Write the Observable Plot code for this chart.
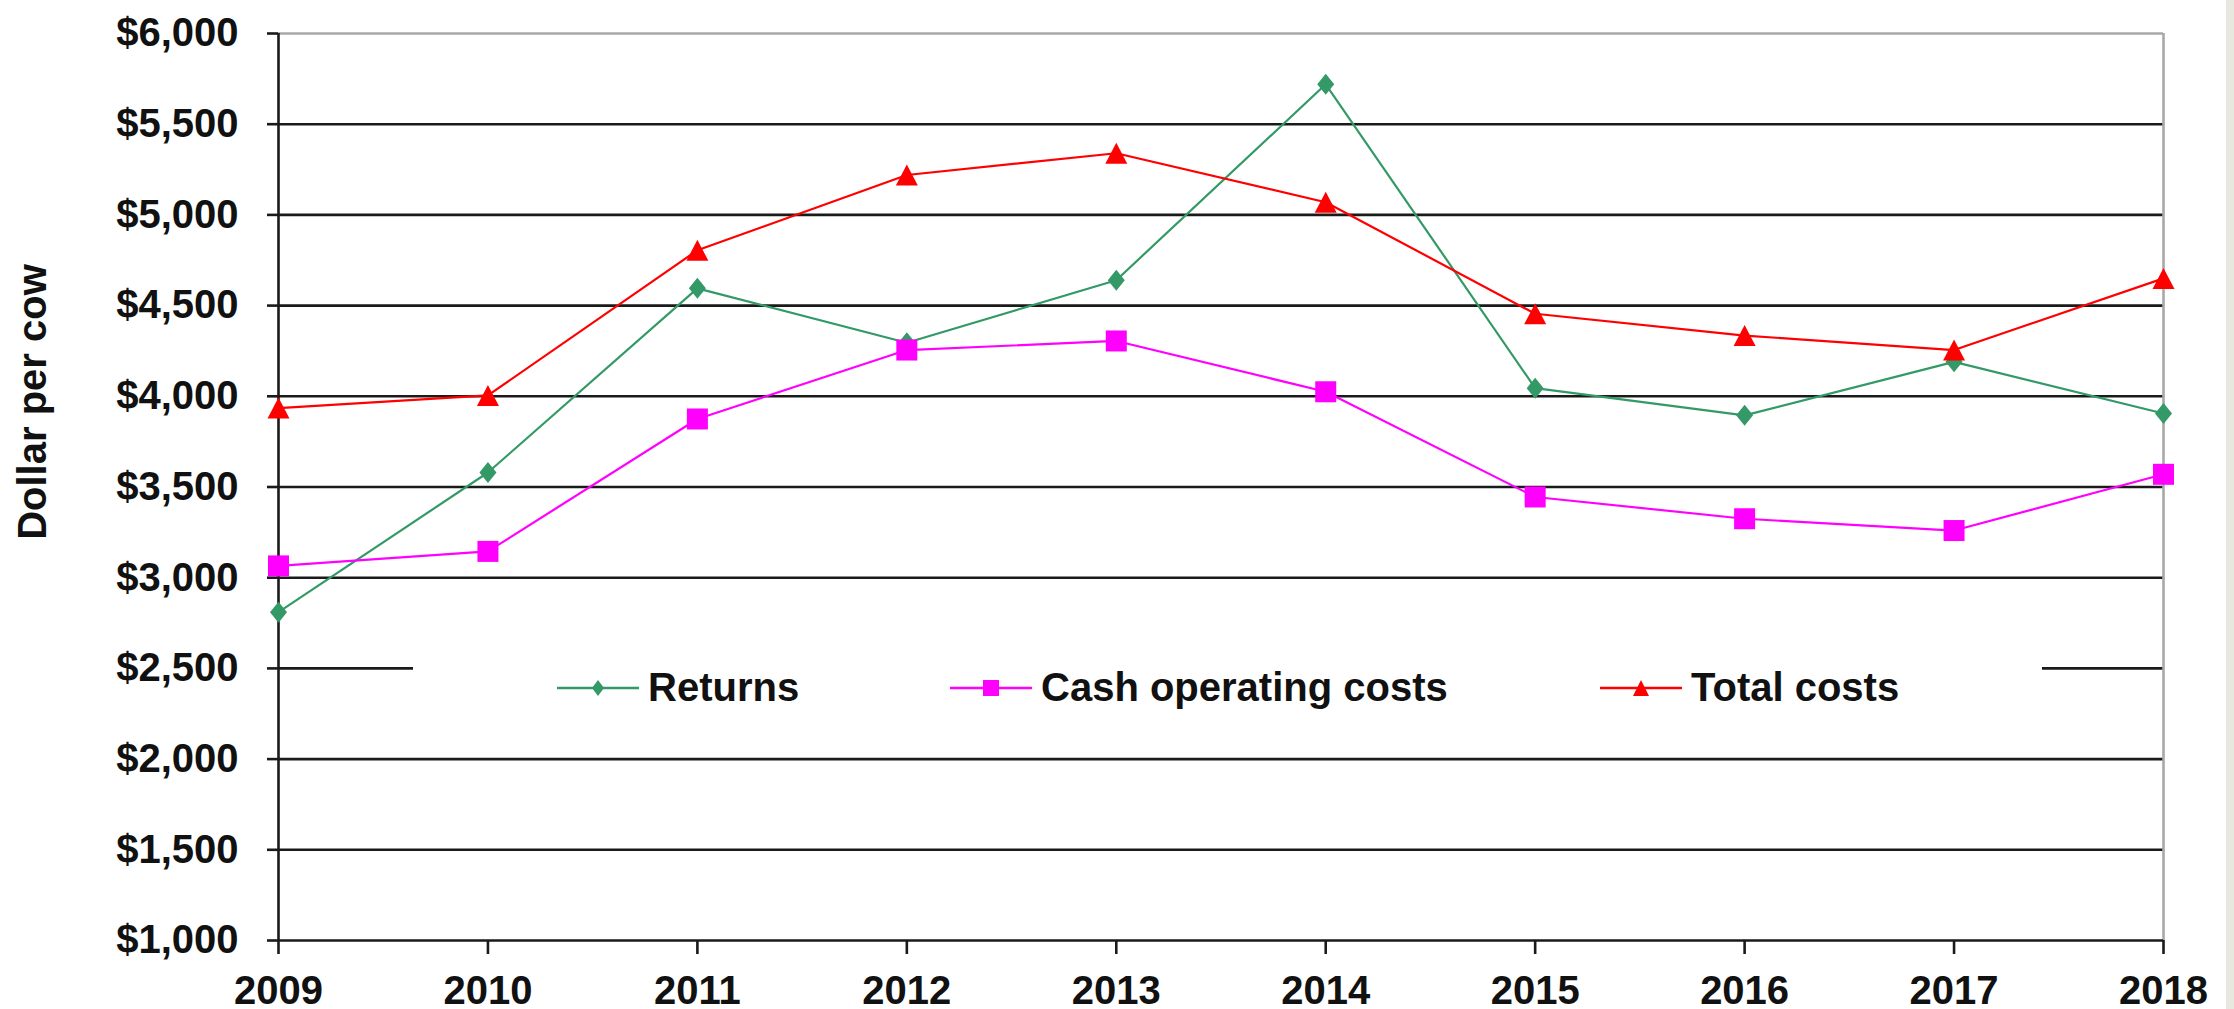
<!DOCTYPE html>
<html>
<head>
<meta charset="utf-8">
<script src="https://cdn.jsdelivr.net/npm/d3@7"></script>
<script src="https://cdn.jsdelivr.net/npm/@observablehq/plot@0.6"></script>
<style>
  html, body { margin: 0; padding: 0; }
  body {
    width: 2234px; height: 1009px; overflow: hidden;
    background: linear-gradient(to right, #ffffff 2226px, #e8e8e0 2226px);
    font-family: "Liberation Sans", Arial, sans-serif;
  }
</style>
</head>
<body>
<script>
// ---- data ----
const years = [2009, 2010, 2011, 2012, 2013, 2014, 2015, 2016, 2017, 2018];
const returns = [2810, 3580, 4595, 4295, 4640, 5720, 4045, 3895, 4190, 3905];
const cashCosts = [3065, 3145, 3875, 4255, 4305, 4025, 3445, 3325, 3260, 3570];
const totalCosts = [3935, 4005, 4805, 5220, 5340, 5070, 4455, 4335, 4255, 4650];
const seriesNames = ["Returns", "Cash operating costs", "Total costs"];
const seriesColors = ["#339966", "#ff00ff", "#ff0000"];
const yTicks = [1000, 1500, 2000, 2500, 3000, 3500, 4000, 4500, 5000, 5500, 6000];
const yLabel = "Dollar per cow";

// ---- marker shapes ----
function diamondSym(w, h) {
  return { draw(ctx) { ctx.moveTo(0, -h); ctx.lineTo(w, 0); ctx.lineTo(0, h); ctx.lineTo(-w, 0); ctx.closePath(); } };
}
function squareSym(s) {
  return { draw(ctx) { ctx.moveTo(-s, -s); ctx.lineTo(s, -s); ctx.lineTo(s, s); ctx.lineTo(-s, s); ctx.closePath(); } };
}
function triangleSym(w, h) {
  return { draw(ctx) { ctx.moveTo(0, -h); ctx.lineTo(w, h); ctx.lineTo(-w, h); ctx.closePath(); } };
}
const symbols = [diamondSym(8.5, 10.5), squareSym(10.5), triangleSym(11, 10.5)];
const legendSymbols = [diamondSym(6, 8), squareSym(8), triangleSym(8, 8)];

const valuesBySeries = [returns, cashCosts, totalCosts];
const rows = [];
seriesNames.forEach((name, s) => {
  years.forEach((yr, i) => rows.push({ year: yr, value: valuesBySeries[s][i], series: name }));
});

const font = "'Liberation Sans', Arial, sans-serif";
const ink = "#1a1a1a";

const marks = [
  Plot.ruleY(yTicks.filter(v => v > 1000 && v < 6000), { stroke: ink, strokeWidth: 2.6 }),
  Plot.ruleY([6000], { stroke: "#a8a8a8", strokeWidth: 2.6 }),
  Plot.ruleX([years[years.length - 1]], { stroke: "#a8a8a8", strokeWidth: 2.6 }),
  Plot.axisY({
    ticks: yTicks, tickFormat: d => "$" + d3.format(",")(d),
    tickSize: 11, tickPadding: 29, label: null,
    stroke: ink, strokeWidth: 2.6, fontSize: 40, fontWeight: "bold"
  }),
  Plot.axisX({
    ticks: years, tickFormat: d => String(d),
    tickSize: 14, tickPadding: 21, label: null,
    stroke: ink, strokeWidth: 2.6, fontSize: 40, fontWeight: "bold"
  }),
  Plot.ruleX([years[0]], { stroke: ink, strokeWidth: 2.6 }),
  Plot.ruleY([yTicks[0]], { stroke: ink, strokeWidth: 2.6 })
];
seriesNames.forEach((name, s) => {
  const d = rows.filter(r => r.series === name);
  marks.push(Plot.line(d, { x: "year", y: "value", stroke: seriesColors[s], strokeWidth: 2.2 }));
  marks.push(Plot.dot(d, { x: "year", y: "value", symbol: symbols[s], fill: seriesColors[s], stroke: "none" }));
});

const chart = Plot.plot({
  width: 2234, height: 1009,
  marginLeft: 278, marginRight: 71, marginTop: 33, marginBottom: 69,
  x: { type: "linear", domain: [years[0], years[years.length - 1]] },
  y: { type: "linear", domain: [yTicks[0], yTicks[yTicks.length - 1]] },
  style: { fontFamily: font, fontSize: "40px", fontWeight: "bold", color: "#111", background: "transparent", overflow: "visible" },
  marks
});
document.body.appendChild(chart);

// ---- y axis title ----
const svg = d3.select(chart);
svg.append("text")
  .attr("transform", "translate(46,402) rotate(-90)")
  .attr("text-anchor", "middle")
  .attr("font-size", 40).attr("font-weight", "bold").attr("fill", "#111")
  .attr("font-family", font)
  .text(yLabel);

// ---- legend (white box overlaying the plot) ----
const lg = svg.append("g");
lg.append("rect").attr("x", 413).attr("y", 632).attr("width", 1629).attr("height", 96).attr("fill", "#ffffff");
const legendItems = [
  { lineX: 557, textX: 648 },
  { lineX: 950, textX: 1041 },
  { lineX: 1600, textX: 1691 }
];
seriesNames.forEach((name, s) => {
  const it = legendItems[s];
  lg.append("line").attr("x1", it.lineX).attr("x2", it.lineX + 82).attr("y1", 688).attr("y2", 688)
    .attr("stroke", seriesColors[s]).attr("stroke-width", 2.5);
  const p = d3.path();
  legendSymbols[s].draw(p);
  lg.append("path").attr("d", p.toString()).attr("transform", `translate(${it.lineX + 41},688)`)
    .attr("fill", seriesColors[s]);
  lg.append("text").attr("x", it.textX).attr("y", 701)
    .attr("text-anchor", "start")
    .attr("font-size", 40).attr("font-weight", "bold").attr("fill", "#111").attr("font-family", font)
    .text(name);
});
</script>
</body>
</html>
